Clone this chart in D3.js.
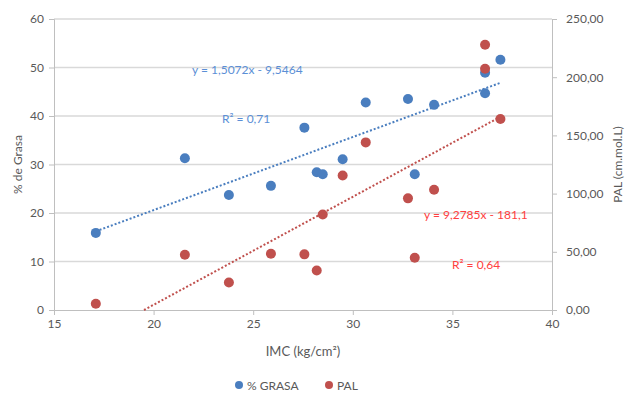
<!DOCTYPE html>
<html>
<head>
<meta charset="utf-8">
<script src="https://cdn.jsdelivr.net/npm/d3@7"></script>
<style>
  body { margin: 0; background: #fff; }
  svg text { font-family: Lato, "Open Sans", sans-serif; }
</style>
</head>
<body>
<svg id="chart" width="626" height="393"></svg>
<script>
// datos
const imc   = [17.1, 21.57, 23.78, 25.89, 27.57, 28.19, 28.49, 29.49, 30.65, 32.77, 33.11, 34.08, 36.64, 36.64, 37.41];
const grasa = [15.9, 31.3, 23.7, 25.6, 37.6, 28.4, 28.0, 31.1, 42.8, 43.5, 28.0, 42.3, 48.9, 44.7, 51.6];
const pal   = [5.4, 47.5, 23.7, 48.4, 47.8, 34.0, 82.1, 115.6, 144.0, 95.9, 44.9, 103.3, 227.9, 207.3, 164.1];

const xTicks = [15, 20, 25, 30, 35, 40];
const yLeftTicks = [0, 10, 20, 30, 40, 50, 60];
const yRightTicks = [0, 50, 100, 150, 200, 250];

// lineas de tendencia (de las etiquetas)
const trendGrasa = { m: 1.5072, b: -9.5464, eq: "y = 1,5072x - 9,5464", r2: "R² = 0,71" };
const trendPal   = { m: 9.2785, b: -181.1, eq: "y = 9,2785x - 181,1", r2: "R² = 0,64" };

const blue = "#4a7ebf", red = "#c0504d";
const margin = { top: 19, right: 74, bottom: 83, left: 54 },
      width = 626, height = 393;

const svg = d3.select("#chart");

var x = d3.scaleLinear().domain([15, 40]).range([margin.left, width - margin.right]);
var yL = d3.scaleLinear().domain([0, 60]).range([height - margin.bottom, margin.top]);
var yR = d3.scaleLinear().domain([0, 250]).range([height - margin.bottom, margin.top]);

// grid
svg.append("g")
  .selectAll("line")
  .data(yLeftTicks.slice(1))
  .enter().append("line")
    .attr("x1", x(15)).attr("x2", x(40))
    .attr("y1", d => yL(d)).attr("y2", d => yL(d))
    .attr("stroke", "#d9d9d9").attr("stroke-width", 1.3);

// ejes
function styleAxis(g) {
  g.selectAll(".domain").attr("stroke", "#bfbfbf");
  g.selectAll(".tick line").attr("stroke", "#bfbfbf");
  g.selectAll(".tick text").attr("fill", "#595959").style("font-size", "12px");
}

svg.append("g")
  .attr("transform", `translate(0,${yL(0)})`)
  .call(d3.axisBottom(x).tickValues(xTicks).tickSizeOuter(0).tickSize(5).tickPadding(4))
  .call(styleAxis);

svg.append("g")
  .attr("transform", `translate(${x(15)},0)`)
  .call(d3.axisLeft(yL).tickValues(yLeftTicks).tickSizeOuter(0).tickSize(5).tickPadding(5))
  .call(styleAxis);

svg.append("g")
  .attr("transform", `translate(${x(40)},0)`)
  .call(d3.axisRight(yR).tickValues(yRightTicks).tickSizeOuter(0).tickSize(5).tickPadding(9)
        .tickFormat(d => d3.format(".2f")(d).replace(".", ",")))
  .call(styleAxis);

// titulos de ejes
svg.append("text")
  .attr("x", (x(15) + x(40)) / 2).attr("y", 356)
  .attr("text-anchor", "middle").attr("fill", "#595959").style("font-size", "13px")
  .text("IMC (kg/cm²)");

svg.append("text")
  .attr("transform", `translate(22,${(yL(0) + yL(60)) / 2}) rotate(-90)`)
  .attr("text-anchor", "middle").attr("fill", "#595959").style("font-size", "12px")
  .text("% de Grasa");

svg.append("text")
  .attr("transform", `translate(622,${(yL(0) + yL(60)) / 2}) rotate(-90)`)
  .attr("text-anchor", "middle").attr("fill", "#595959").style("font-size", "12px")
  .text("PAL (cm.mol.L)");

// tendencias
var xMin = d3.min(imc), xMax = d3.max(imc);
svg.append("line")
  .attr("x1", x(xMin)).attr("y1", yL(trendGrasa.m * xMin + trendGrasa.b))
  .attr("x2", x(xMax)).attr("y2", yL(trendGrasa.m * xMax + trendGrasa.b))
  .attr("stroke", blue).attr("stroke-width", 2).attr("stroke-dasharray", "2,2");

var x0 = Math.max(xMin, -trendPal.b / trendPal.m);
svg.append("line")
  .attr("x1", x(x0)).attr("y1", yR(trendPal.m * x0 + trendPal.b))
  .attr("x2", x(xMax)).attr("y2", yR(trendPal.m * xMax + trendPal.b))
  .attr("stroke", red).attr("stroke-width", 2).attr("stroke-dasharray", "2,2");

// puntos
svg.append("g")
  .selectAll("circle")
  .data(imc)
  .enter().append("circle")
    .attr("cx", d => x(d))
    .attr("cy", (d, i) => yL(grasa[i]))
    .attr("r", 5)
    .attr("fill", blue);

svg.append("g")
  .selectAll("circle")
  .data(imc)
  .enter().append("circle")
    .attr("cx", d => x(d))
    .attr("cy", (d, i) => yR(pal[i]))
    .attr("r", 5)
    .attr("fill", red);

// etiquetas de ecuaciones
svg.append("text").attr("x", 192).attr("y", 74)
  .attr("fill", "#5b8fd6").style("font-size", "12px").text(trendGrasa.eq);
svg.append("text").attr("x", 222).attr("y", 123)
  .attr("fill", "#5b8fd6").style("font-size", "12px").text(trendGrasa.r2);
svg.append("text").attr("x", 424).attr("y", 219)
  .attr("fill", "#ff4040").style("font-size", "12px").text(trendPal.eq);
svg.append("text").attr("x", 452).attr("y", 269)
  .attr("fill", "#ff4040").style("font-size", "12px").text(trendPal.r2);

// leyenda
const legend = [{ name: "% GRASA", color: blue, x: 239 }, { name: "PAL", color: red, x: 329 }];
const lg = svg.append("g").selectAll("g").data(legend).enter().append("g")
  .attr("transform", d => `translate(${d.x},385)`);
lg.append("circle").attr("r", 4).attr("fill", d => d.color);
lg.append("text").attr("x", 8).attr("y", 4.5)
  .attr("fill", "#595959").style("font-size", "12px").text(d => d.name);
</script>
</body>
</html>
